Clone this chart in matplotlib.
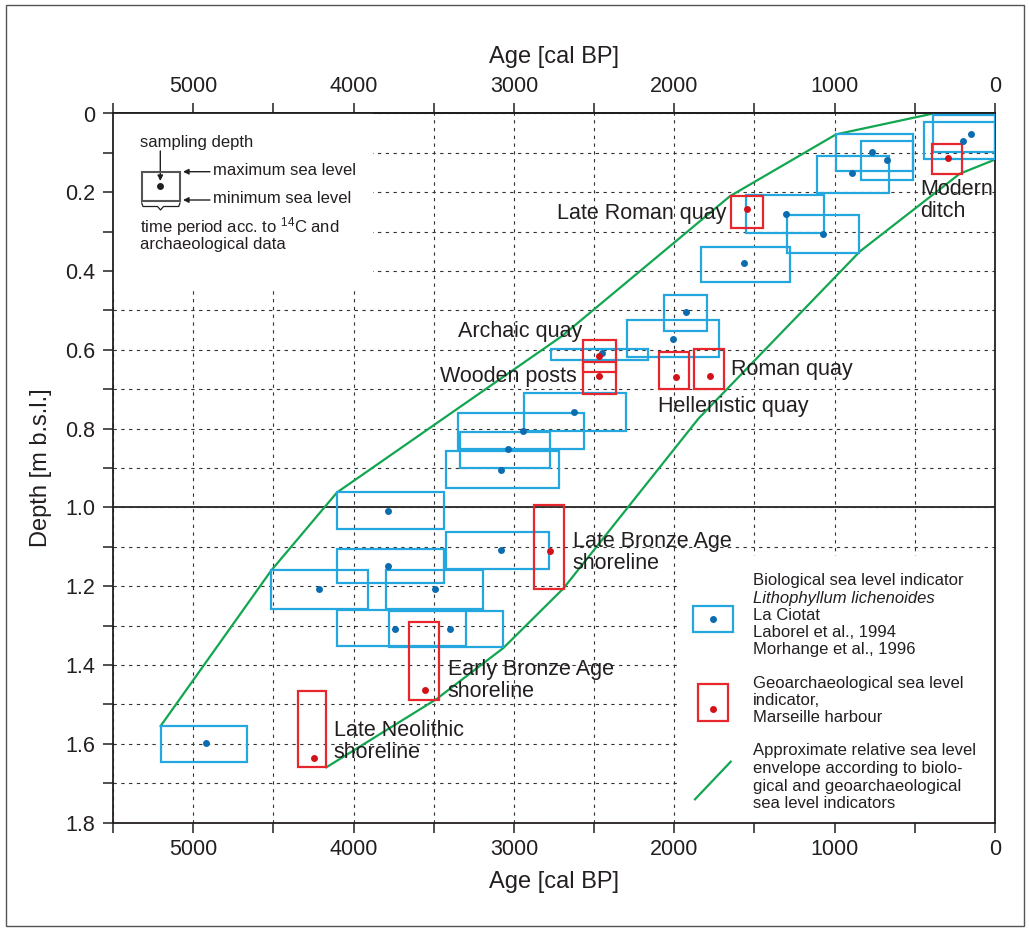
import matplotlib
matplotlib.use('Agg')
import matplotlib.pyplot as plt
from matplotlib.patches import Rectangle

plt.rcParams['font.family'] = ['Liberation Sans', 'DejaVu Sans']
plt.rcParams['mathtext.fontset'] = 'custom'
plt.rcParams['mathtext.rm'] = 'Liberation Sans'
plt.rcParams['mathtext.it'] = 'Liberation Sans:italic'
plt.rcParams['mathtext.default'] = 'regular'

# ---------------- data ----------------
# Biological sea level indicators (Lithophyllum lichenoides, La Ciotat)
bio_age_old = [5203, 4515, 4103, 4101, 3796, 4101, 3777, 3426, 3426, 3336, 3347, 2935,
               2769, 2293, 2062, 1835, 1553, 1299, 1112, 992, 838, 385, 441]
bio_age_young = [4665, 3910, 3438, 3438, 3193, 3301, 3068, 2779, 2719, 2775, 2561, 2303,
                 2166, 1721, 1798, 1278, 1066, 846, 661, 509, 509, 0, 0]
bio_depth_top = [1.555, 1.160, 0.962, 1.105, 1.160, 1.261, 1.263, 1.063, 0.857, 0.808, 0.761, 0.710,
                 0.599, 0.525, 0.462, 0.338, 0.207, 0.258, 0.108, 0.053, 0.071, 0.004, 0.022]
bio_depth_bot = [1.646, 1.257, 1.055, 1.193, 1.257, 1.351, 1.355, 1.157, 0.951, 0.901, 0.852, 0.806,
                 0.626, 0.619, 0.551, 0.428, 0.303, 0.353, 0.203, 0.147, 0.168, 0.098, 0.116]
bio_sample_age = [4918, 4214, 3785, 3785, 3494, 3740, 3401, 3081, 3081, 3035, 2941, 2623,
                  2453, 2006, 1929, 1563, 1303, 1071, 890, 767, 673, 152, 200]
bio_sample_depth = [1.597, 1.208, 1.009, 1.150, 1.208, 1.308, 1.308, 1.109, 0.904, 0.853, 0.806, 0.759,
                    0.608, 0.572, 0.504, 0.380, 0.255, 0.305, 0.150, 0.099, 0.119, 0.051, 0.069]

# Geoarchaeological sea level indicators (Marseille harbour)
geo_age_old = [4347, 3656, 2875, 2571, 2571, 2093, 1877, 1648, 395]
geo_age_young = [4174, 3469, 2688, 2363, 2363, 1906, 1690, 1447, 204]
geo_depth_top = [1.465, 1.292, 0.994, 0.575, 0.631, 0.606, 0.599, 0.209, 0.077]
geo_depth_bot = [1.660, 1.488, 1.206, 0.657, 0.713, 0.700, 0.700, 0.290, 0.154]
geo_sample_age = [4247, 3555, 2775, 2467, 2467, 1991, 1777, 1549, 291]
geo_sample_depth = [1.637, 1.464, 1.111, 0.615, 0.666, 0.670, 0.666, 0.243, 0.112]
geo_labels = ['Late Neolithic\nshoreline', 'Early Bronze Age\nshoreline',
              'Late Bronze Age\nshoreline', 'Archaic quay', 'Wooden posts',
              'Hellenistic quay', 'Roman quay', 'Late Roman quay', 'Modern\nditch']

# Approximate relative sea level envelope
env_upper_age = [5203, 4513, 4103, 2700, 1653, 991, 385]
env_upper_depth = [1.555, 1.160, 0.962, 0.565, 0.210, 0.053, 0.000]
env_lower_age = [4170, 3484, 3066, 2692, 1850, 842, 220, 0]
env_lower_depth = [1.660, 1.487, 1.357, 1.206, 0.775, 0.350, 0.153, 0.117]

x_major = [5000, 4000, 3000, 2000, 1000, 0]
x_minor = [5500, 4500, 3500, 2500, 1500, 500]
y_major = [0, 0.2, 0.4, 0.6, 0.8, 1.0, 1.2, 1.4, 1.6, 1.8]
y_major_labels = ['0', '0.2', '0.4', '0.6', '0.8', '1.0', '1.2', '1.4', '1.6', '1.8']
y_minor = [0.1, 0.3, 0.5, 0.7, 0.9, 1.1, 1.3, 1.5, 1.7]

# ---------------- layout / style ----------------
W, H = 1029, 930
AX_L, AX_R, AX_T, AX_B = 113, 995, 113.5, 822.5
BLUE_EDGE = '#24a6df'
BLUE_DOT = '#0b6cb0'
RED_EDGE = '#e8262d'
RED_DOT = '#d2121b'
GREEN = '#12a650'
INK = '#231f20'

# label anchor (left edge age, centre depth) for each geo label
label_pos = [(4124, 1.594), (3413, 1.439), (2634, 1.114), (3346, 0.554), (3461, 0.668),
             (2100, 0.744), (1646, 0.649), (2734, 0.253), (468, 0.221)]

fig = plt.figure(figsize=(W / 100, H / 100), dpi=100)
ax = fig.add_axes([AX_L / W, 1 - AX_B / H, (AX_R - AX_L) / W, (AX_B - AX_T) / H])


def afx(px):
    return (px - AX_L) / (AX_R - AX_L)


def afy(py):
    return (AX_B - py) / (AX_B - AX_T)


ax.set_xlim(5500, 0)
ax.set_ylim(1.8, 0)

ax.set_xticks(x_major)
ax.set_xticks(x_minor, minor=True)
ax.set_yticks(y_major)
ax.set_yticklabels(y_major_labels)
ax.set_yticks(y_minor, minor=True)
ax.tick_params(which='both', direction='out', length=7, width=1.1, color=INK,
               labelsize=15.5, labelcolor=INK, pad=5)
ax.tick_params(axis='y', pad=6)
for s in ax.spines.values():
    s.set_linewidth(1.3)
    s.set_color(INK)

secax = ax.secondary_xaxis('top')
secax.set_xticks(x_major)
secax.set_xticks(x_minor, minor=True)
secax.tick_params(which='both', direction='out', length=7, width=1.1, color=INK,
                  labelsize=15.5, labelcolor=INK, pad=5)
secax.spines['top'].set_linewidth(1.3)
secax.set_xlabel('Age [cal BP]', fontsize=17, color=INK, labelpad=9)
ax.set_xlabel('Age [cal BP]', fontsize=17, color=INK, labelpad=8)
ax.set_ylabel('Depth [m b.s.l.]', fontsize=17, color=INK, labelpad=9)

ax.set_axisbelow(True)
ax.grid(True, which='both', color='#333333', lw=0.8, ls=(0, (3, 4)))
ax.axhline(1.0, color='#333333', lw=1.4, zorder=1.5)

# white areas (annotation + legend) hide the grid
ax.add_patch(Rectangle((afx(AX_L), afy(290)), afx(373) - afx(AX_L), afy(AX_T) - afy(290),
                       transform=ax.transAxes, facecolor='white', edgecolor='none', zorder=1))
ax.add_patch(Rectangle((afx(680), afy(AX_B)), afx(AX_R) - afx(680), afy(556) - afy(AX_B),
                       transform=ax.transAxes, facecolor='white', edgecolor='none', zorder=1))

# envelope
ax.plot(env_upper_age, env_upper_depth, color=GREEN, lw=1.6, zorder=2)
ax.plot(env_lower_age, env_lower_depth, color=GREEN, lw=1.6, zorder=2)

# biological boxes
for ao, ay, dt, db in zip(bio_age_old, bio_age_young, bio_depth_top, bio_depth_bot):
    ax.add_patch(Rectangle((ay, dt), ao - ay, db - dt, facecolor='none',
                           edgecolor=BLUE_EDGE, lw=1.6, zorder=3))
ax.plot(bio_sample_age, bio_sample_depth, 'o', color=BLUE_DOT, ms=5, mec='none', zorder=5)

# geoarchaeological boxes
for ao, ay, dt, db in zip(geo_age_old, geo_age_young, geo_depth_top, geo_depth_bot):
    ax.add_patch(Rectangle((ay, dt), ao - ay, db - dt, facecolor='none',
                           edgecolor=RED_EDGE, lw=1.6, zorder=4))
ax.plot(geo_sample_age, geo_sample_depth, 'o', color=RED_DOT, ms=5, mec='none', zorder=5)

for lab, (la, ld) in zip(geo_labels, label_pos):
    ax.text(la, ld, lab, fontsize=15.5, color=INK, ha='left', va='center',
            linespacing=1.08, zorder=6)

# ---------------- top-left explanation ----------------
tfs = 12
ax.text(afx(140), afy(143), 'sampling depth', transform=ax.transAxes, fontsize=tfs,
        color=INK, ha='left', va='center', zorder=6)
ax.annotate('', xy=(afx(160.3), afy(181)), xytext=(afx(160.3), afy(151)),
            xycoords='axes fraction', textcoords='axes fraction',
            arrowprops=dict(arrowstyle='-|>', color=INK, lw=1.0, mutation_scale=8,
                            shrinkA=0, shrinkB=0), zorder=6)
ax.add_patch(Rectangle((afx(141.7), afy(200.7)), afx(180) - afx(141.7), afy(171.7) - afy(200.7),
                       transform=ax.transAxes, facecolor='none', edgecolor='#555555', lw=1.5,
                       zorder=6))
ax.plot([afx(160.3)], [afy(186)], 'o', color=INK, ms=5, mec='none', transform=ax.transAxes,
        zorder=6)
for yy, txt in [(171.7, 'maximum sea level'), (200.0, 'minimum sea level')]:
    ax.annotate('', xy=(afx(183), afy(yy)), xytext=(afx(210), afy(yy)),
                xycoords='axes fraction', textcoords='axes fraction',
                arrowprops=dict(arrowstyle='-|>', color=INK, lw=1.0, mutation_scale=8,
                                shrinkA=0, shrinkB=0), zorder=6)
    ax.text(afx(212.7), afy(yy - 1.5), txt, transform=ax.transAxes, fontsize=tfs, color=INK,
            ha='left', va='center', zorder=6)
bx = [141.7, 143, 157.5, 160.5, 163.5, 178.7, 180]
by = [203, 206.5, 206.5, 210, 206.5, 206.5, 203]
ax.plot([afx(v) for v in bx], [afy(v) for v in by], color=INK, lw=0.9,
        transform=ax.transAxes, zorder=6)
ax.text(afx(140), afy(226.7), 'time period acc. to $^{14}$C and', transform=ax.transAxes,
        fontsize=tfs, color=INK, ha='left', va='center', zorder=6)
ax.text(afx(140), afy(245), 'archaeological data', transform=ax.transAxes,
        fontsize=tfs, color=INK, ha='left', va='center', zorder=6)

# ---------------- bottom-right legend ----------------
ax.add_patch(Rectangle((afx(692.7), afy(631.7)), afx(733.3) - afx(692.7), afy(606) - afy(631.7),
                       transform=ax.transAxes, facecolor='none', edgecolor=BLUE_EDGE, lw=1.6,
                       zorder=6))
ax.plot([afx(712.7)], [afy(619)], 'o', color=BLUE_DOT, ms=5, mec='none',
        transform=ax.transAxes, zorder=6)
ax.add_patch(Rectangle((afx(698.3), afy(720.7)), afx(728.3) - afx(698.3), afy(684) - afy(720.7),
                       transform=ax.transAxes, facecolor='none', edgecolor=RED_EDGE, lw=1.6,
                       zorder=6))
ax.plot([afx(712.7)], [afy(709.3)], 'o', color=RED_DOT, ms=5, mec='none',
        transform=ax.transAxes, zorder=6)
ax.plot([afx(695), afx(730.7)], [afy(799.3), afy(761.7)], color=GREEN, lw=1.6,
        transform=ax.transAxes, zorder=6)

legend_lines = [
    (580.7, 'Biological sea level indicator', 'normal'),
    (598.3, 'Lithophyllum lichenoides', 'italic'),
    (615.7, 'La Ciotat', 'normal'),
    (632.7, 'Laborel et al., 1994', 'normal'),
    (649.3, 'Morhange et al., 1996', 'normal'),
    (683.3, 'Geoarchaeological sea level', 'normal'),
    (700.7, 'indicator,', 'normal'),
    (717.7, 'Marseille harbour', 'normal'),
    (750.7, 'Approximate relative sea level', 'normal'),
    (768.3, 'envelope according to biolo-', 'normal'),
    (786.0, 'gical and geoarchaeological', 'normal'),
    (803.3, 'sea level indicators', 'normal'),
]
for yy, txt, st in legend_lines:
    ax.text(afx(752.7), afy(yy), txt, transform=ax.transAxes, fontsize=tfs, color=INK,
            style=st, ha='left', va='center', zorder=6)

# outer frame
fig.add_artist(Rectangle((6 / W, 1 - 926 / H), (1024 - 6) / W, (926 - 5) / H,
                         transform=fig.transFigure, facecolor='none', edgecolor='#555555',
                         lw=1.0))

fig.savefig('out.png', dpi=100)
